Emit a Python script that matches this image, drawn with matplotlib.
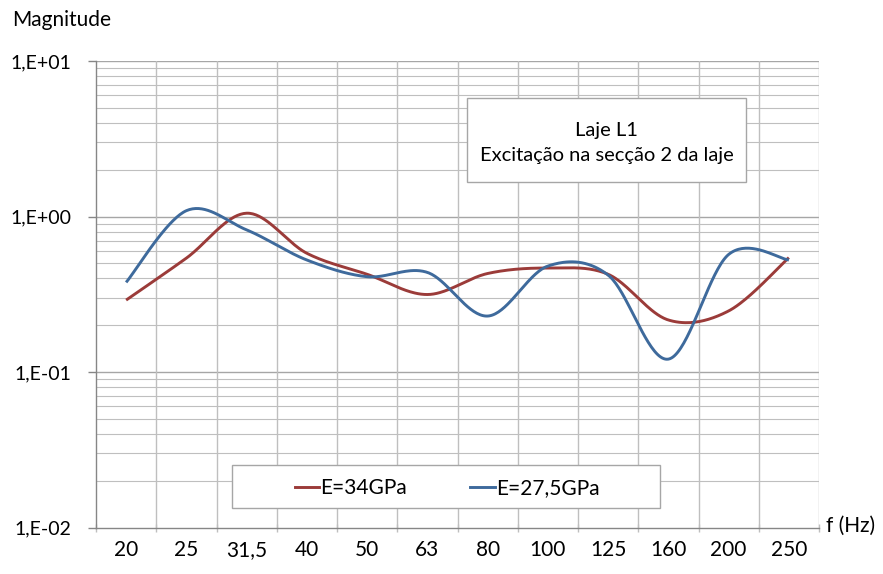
import numpy as np
import matplotlib
matplotlib.use("Agg")
import matplotlib.pyplot as plt
from matplotlib.lines import Line2D

categories = ["20", "25", "31,5", "40", "50", "63", "80", "100", "125", "160", "200", "250"]
e34 = [0.29, 0.54, 1.05, 0.58, 0.425, 0.315, 0.43, 0.466, 0.425, 0.216, 0.247, 0.544]
e275 = [0.377, 1.09, 0.82, 0.525, 0.41, 0.437, 0.229, 0.48, 0.42, 0.121, 0.57, 0.525]
ytick_labels = ["1,E-02", "1,E-01", "1,E+00", "1,E+01"]

RED = "#9B3B39"
BLUE = "#3E6A9C"

plt.rcParams['font.family'] = ['Lato', 'DejaVu Sans']


def smooth(xs, ys, n=40):
    """Excel-like smoothed line: Catmull-Rom Bezier in (x, log y) space."""
    P = np.column_stack([xs, np.log10(ys)])
    out = []
    m = len(P)
    for i in range(m - 1):
        p0 = P[i - 1] if i > 0 else P[i]
        p1 = P[i]
        p2 = P[i + 1]
        p3 = P[i + 2] if i + 2 < m else P[i + 1]
        b1 = p1 + (p2 - p0) / 6.0
        b2 = p2 - (p3 - p1) / 6.0
        t = np.linspace(0, 1, n)[:, None]
        seg = ((1 - t) ** 3) * p1 + 3 * ((1 - t) ** 2) * t * b1 + 3 * (1 - t) * t ** 2 * b2 + t ** 3 * p2
        out.append(seg if i == 0 else seg[1:])
    S = np.vstack(out)
    return S[:, 0], 10 ** S[:, 1]


fig = plt.figure(figsize=(8.83, 5.74), dpi=100)
W, H = 883, 574
x0, x1, yt, yb = 96, 819, 61, 527.5
ax = fig.add_axes([x0 / W, 1 - yb / H, (x1 - x0) / W, (yb - yt) / H])

ax.set_yscale('log')
ax.set_ylim(0.01, 10)
n = len(categories)
ax.set_xlim(0, n)

xs = np.arange(n) + 0.5
sx, sy = smooth(xs, e34)
ax.plot(sx, sy, color=RED, lw=2.1, solid_capstyle='butt', zorder=3)
sx, sy = smooth(xs, e275)
ax.plot(sx, sy, color=BLUE, lw=2.1, solid_capstyle='butt', zorder=4)

# grid
grid_c = "#BFBFBF"
for d in range(-2, 1):
    for k in range(2, 10):
        ax.axhline(k * 10.0 ** d, color=grid_c, lw=0.8, zorder=1)
for d in range(-1, 2):
    ax.axhline(10.0 ** d, color="#A6A6A6", lw=1.0, zorder=1)
for i in range(1, n + 1):
    ax.axvline(i, color=grid_c, lw=1.0, zorder=1)

ax.set_yticks([0.01, 0.1, 1, 10])
ax.set_yticklabels(ytick_labels)
ax.yaxis.set_minor_locator(matplotlib.ticker.NullLocator())
ax.set_xticks(xs)
ax.set_xticklabels(categories)
ax.set_xticks(np.arange(0, n + 1), minor=True)
ax.tick_params(axis='x', which='major', length=0, pad=9, labelsize=15, colors='black')
ax.tick_params(axis='x', which='minor', length=6, direction='inout', color=grid_c, width=1.0)
ax.tick_params(axis='y', which='major', length=6, direction='out', color="#868686", width=1.0,
               labelsize=14, pad=12)

for s in ['top', 'right']:
    ax.spines[s].set_visible(False)
for s in ['left', 'bottom']:
    ax.spines[s].set_color("#868686")
    ax.spines[s].set_linewidth(1.0)

fig.text(12 / W, 1 - 20 / H, "Magnitude", fontsize=15, ha='left', va='center')
fig.text(826 / W, 1 - 526 / H, "f (Hz)", fontsize=15, ha='left', va='center')

# annotation box
bx0, bx1, by0, by1 = 467, 746, 98, 182
ax.add_patch(plt.Rectangle((bx0 / W, 1 - by1 / H), (bx1 - bx0) / W, (by1 - by0) / H,
                           transform=fig.transFigure, facecolor='white', edgecolor='#A6A6A6',
                           lw=1.0, zorder=5, clip_on=False))
fig.text((bx0 + bx1) / 2 / W, 1 - 136 / H, "Laje L1", fontsize=14.5, ha='center', va='baseline', zorder=6)
fig.text((bx0 + bx1) / 2 / W, 1 - 161 / H, "Excitação na secção 2 da laje", fontsize=14.5,
         ha='center', va='baseline', zorder=6)

# legend box
lx0, lx1, ly0, ly1 = 232, 660, 465, 508
ax.add_patch(plt.Rectangle((lx0 / W, 1 - ly1 / H), (lx1 - lx0) / W, (ly1 - ly0) / H,
                           transform=fig.transFigure, facecolor='white', edgecolor='#A6A6A6',
                           lw=1.0, zorder=5, clip_on=False))
ly = 1 - 487 / H
fig.add_artist(Line2D([295 / W, 319 / W], [ly, ly], color=RED, lw=2.1, zorder=6))
fig.text(320 / W, 1 - 494 / H, "E=34GPa", fontsize=15, ha='left', va='baseline', zorder=6)
fig.add_artist(Line2D([470 / W, 495 / W], [ly, ly], color=BLUE, lw=2.1, zorder=6))
fig.text(496 / W, 1 - 494 / H, "E=27,5GPa", fontsize=15, ha='left', va='baseline', zorder=6)

fig.savefig("out.png", dpi=100)
